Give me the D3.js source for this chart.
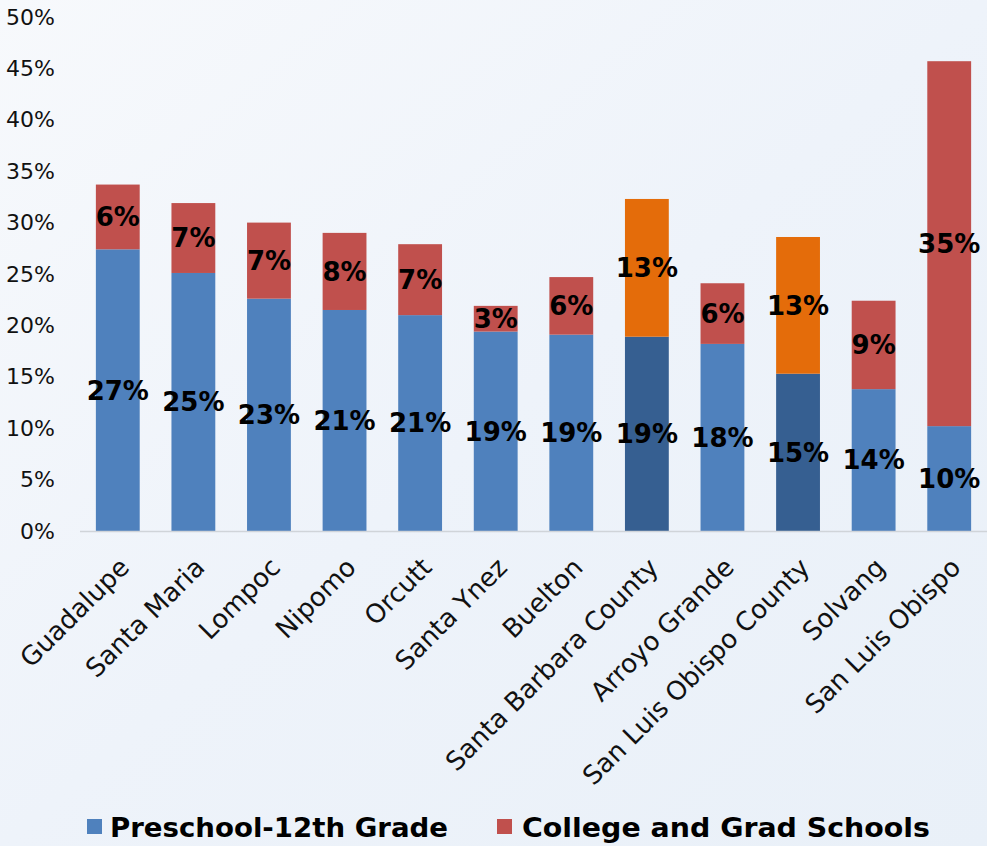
<!DOCTYPE html>
<html><head><meta charset="utf-8">
<script src="https://cdn.jsdelivr.net/npm/d3@7"></script>
<style>html,body{margin:0;padding:0;}svg{display:block;}</style>
</head><body>
<svg id="c" width="987" height="846"></svg>
<script>
const categories = ["Guadalupe","Santa Maria","Lompoc","Nipomo","Orcutt","Santa Ynez","Buelton","Santa Barbara County","Arroyo Grande","San Luis Obispo County","Solvang","San Luis Obispo"];
const preschool = [27.4, 25.1, 22.6, 21.5, 21.0, 19.4, 19.1, 18.9, 18.2, 15.3, 13.8, 10.2];
const college   = [6.3, 6.8, 7.4, 7.5, 6.9, 2.5, 5.6, 13.4, 5.9, 13.3, 8.6, 35.5];
const preschoolLabels = ["27%","25%","23%","21%","21%","19%","19%","19%","18%","15%","14%","10%"];
const collegeLabels   = ["6%","7%","7%","8%","7%","3%","6%","13%","6%","13%","9%","35%"];
const isCounty = [false,false,false,false,false,false,false,true,false,true,false,false];
const yTicks = [0,5,10,15,20,25,30,35,40,45,50];
const seriesNames = ["Preschool-12th Grade","College and Grad Schools"];

const colors = {blue:"#4F81BD", red:"#C0504D", darkBlue:"#365F91", orange:"#E46C0A"};
const font = "'DejaVu Sans', 'Century Gothic', sans-serif";

const svg = d3.select("#c");
const W = 987, H = 846;
const defs = svg.append("defs");
const g1 = defs.append("linearGradient").attr("id","bg").attr("x1",0).attr("y1",0).attr("x2",1).attr("y2",1);
g1.append("stop").attr("offset","0%").attr("stop-color","#f7f9fc");
g1.append("stop").attr("offset","50%").attr("stop-color","#eef3fa");
g1.append("stop").attr("offset","100%").attr("stop-color","#e9f0f8");
svg.append("rect").attr("width",W).attr("height",H).attr("fill","url(#bg)");

const pL = 80, pR = 987, pT = 17, pB = 531;
const x = d3.scaleBand().domain(categories).range([pL,pR]).paddingInner(0.42).paddingOuter(0.21);
const y = d3.scaleLinear().domain([0,50]).range([pB,pT]);

// y tick labels
const yAxis = d3.axisLeft(y).tickValues(yTicks).tickFormat(d=>d+"%").tickSize(0).tickPadding(0);
const ya = svg.append("g").attr("transform",`translate(55,0)`).call(yAxis);
ya.select(".domain").remove();
ya.selectAll("text").attr("font-family",font).attr("font-size",22).attr("fill","#111").attr("text-anchor","end").attr("x",0);

// bars
const gb = svg.append("g");
categories.forEach((c,i)=>{
  gb.append("rect").attr("x",x(c)).attr("width",x.bandwidth())
    .attr("y",y(preschool[i])).attr("height",y(0)-y(preschool[i]))
    .attr("fill",isCounty[i]?colors.darkBlue:colors.blue);
  gb.append("rect").attr("x",x(c)).attr("width",x.bandwidth())
    .attr("y",y(preschool[i]+college[i])).attr("height",y(preschool[i])-y(preschool[i]+college[i]))
    .attr("fill",isCounty[i]?colors.orange:colors.red);
});

// x axis line
svg.append("line").attr("x1",pL).attr("x2",pR).attr("y1",pB+0.5).attr("y2",pB+0.5).attr("stroke","#d0d4d9").attr("stroke-width",1.5);

// x labels
const xa = svg.append("g").attr("transform",`translate(0,${pB})`).call(d3.axisBottom(x).tickSize(0).tickPadding(0));
xa.select(".domain").remove();
xa.selectAll("text").attr("font-family",font).attr("font-size",26).attr("fill","#111")
  .attr("text-anchor","end").attr("dy",0).attr("y",0)
  .attr("transform","translate(13,38) rotate(-45)");

// data labels
const gl = svg.append("g").attr("font-family",font).attr("font-weight","bold").attr("font-size",26).attr("fill","#000").attr("text-anchor","middle");
categories.forEach((c,i)=>{
  const cx = x(c)+x.bandwidth()/2;
  gl.append("text").attr("x",cx).attr("y",(y(0)+y(preschool[i]))/2).attr("dy","0.36em").text(preschoolLabels[i]);
  gl.append("text").attr("x",cx).attr("y",(y(preschool[i])+y(preschool[i]+college[i]))/2).attr("dy","0.36em").text(collegeLabels[i]);
});

// legend
const lg = svg.append("g").attr("font-family",font).attr("font-weight","bold").attr("font-size",27).attr("fill","#000");
lg.append("rect").attr("x",87).attr("y",819).attr("width",15).attr("height",15).attr("fill",colors.blue);
lg.append("text").attr("x",110).attr("y",827).attr("dy","0.36em").attr("textLength",338).attr("lengthAdjust","spacingAndGlyphs").text(seriesNames[0]);
lg.append("rect").attr("x",497).attr("y",819).attr("width",15).attr("height",15).attr("fill",colors.red);
lg.append("text").attr("x",522).attr("y",827).attr("dy","0.36em").attr("textLength",408).attr("lengthAdjust","spacingAndGlyphs").text(seriesNames[1]);
</script>
</body></html>
